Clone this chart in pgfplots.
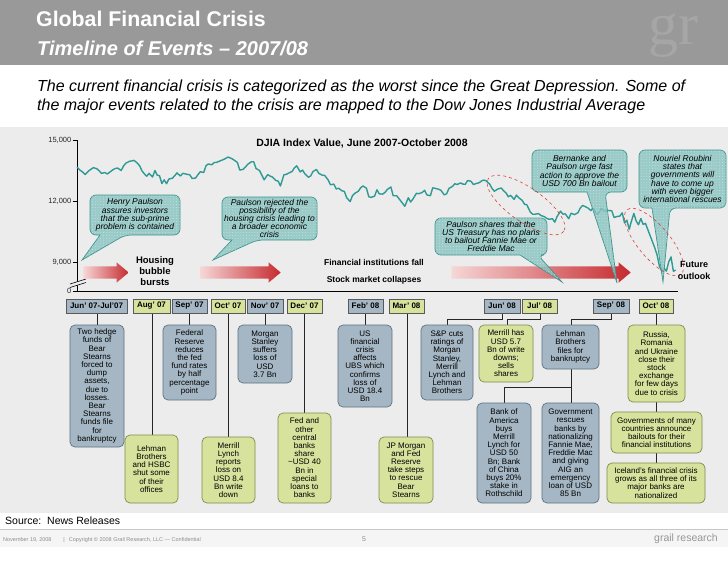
\documentclass[border=0pt]{standalone}
\usepackage{pgfplots}
\pgfplotsset{compat=1.18}
\usepackage{pgfplotstable}
\usepackage{fontspec}
\setmainfont{Liberation Sans}
\newfontfamily\wmfont{Liberation Serif}
\usetikzlibrary{shapes.arrows,patterns.meta}

\definecolor{hdr}{HTML}{999999}
\definecolor{wm}{HTML}{A6A6A6}
\definecolor{panel}{HTML}{ECECEC}
\definecolor{djia}{HTML}{2F9A94}
\definecolor{bgray}{HTML}{A5B7C4}
\definecolor{bgrayd}{HTML}{5E7280}
\definecolor{ygreen}{HTML}{D7E29D}
\definecolor{ygreend}{HTML}{7F8C4C}
\definecolor{callfill}{HTML}{86C3BF}
\definecolor{calldraw}{HTML}{3E958F}
\definecolor{arrowred}{HTML}{C62A2F}
\definecolor{arrowpink}{HTML}{F6D6D6}
\definecolor{ellred}{HTML}{D9403C}
\definecolor{foot}{HTML}{8C8C8C}

% DJIA close, x = days since 1 June 2007
\pgfplotstableread{
day val
0 13670
3 13500
5 13420
7 13300
10 13480
12 13560
14 13640
17 13590
19 13490
21 13360
24 13400
26 13330
28 13410
31 13540
33 13600
35 13620
38 13500
40 13720
42 13860
45 13950
47 13970
49 14000
52 13860
54 13720
56 13470
59 13270
60 13220
62 13360
65 13180
67 13500
69 13270
71 13240
73 12860
75 13040
77 12850
79 13080
82 13120
84 13240
86 13380
89 13230
91 13360
95 13310
97 13290
99 13110
102 13130
104 13290
106 13440
109 13400
111 13740
113 13820
116 13780
118 13890
120 13900
123 13970
126 14040
128 14100
130 14160
133 14090
136 13980
138 13890
140 13520
143 13560
145 13680
147 13810
150 13930
152 13930
154 13600
157 13500
159 13270
161 13040
164 13300
166 13230
168 13180
171 13010
173 12980
175 12740
178 13290
180 13310
182 13370
185 13450
187 13630
189 13730
192 13430
194 13520
196 13340
199 13170
201 13230
203 13450
206 13550
208 13360
211 13270
213 13260
216 13040
218 12800
221 12830
223 12590
225 12630
228 12500
230 12470
232 12160
235 11970
237 12270
239 12380
242 12480
244 12650
246 12740
249 12630
251 12210
253 12180
256 12240
258 12550
260 12350
263 12340
265 12430
267 12570
270 12690
272 12260
275 12260
278 12040
280 11890
282 11740
285 12160
287 11950
289 12100
292 12380
294 12360
297 12420
299 12530
301 12300
304 12260
306 12650
309 12610
311 12580
313 12530
316 12300
318 12360
320 12620
323 12720
325 12850
327 12810
330 12890
332 12830
334 12820
336 13010
339 12970
341 12810
344 12870
346 12900
348 12990
350 13030
352 12990
355 12830
357 12620
359 12480
362 12590
365 12640
367 12500
369 12400
371 12210
373 12280
376 12080
378 12290
380 12160
383 12030
385 11840
387 11810
390 11450
392 11350
394 11350
397 11380
399 11290
402 11230
404 11150
406 11100
409 11130
411 10960
413 11240
416 11500
418 11350
420 11370
423 11130
425 11400
428 11330
431 11430
433 11660
435 11780
437 11730
440 11640
442 11530
444 11660
447 11350
449 11420
451 11630
454 11500
456 11540
460 11520
462 11190
464 11230
467 11260
469 11420
471 10920
473 11060
475 10610
477 11020
479 11390
481 11020
483 10830
485 11140
487 10850
489 10900
491 10600
493 10300
495 10000
497 9700
499 9350
501 8800
503 8550
505 8700
507 8550
509 9000
511 9250
512 8900
513 8550
515 8600
}\djiatab

\newcommand\evbox[6]{%
  \draw[#1, rounded corners=5pt, line width=0.7pt] (#2,#3) rectangle (#4,#5);
  \node[evt] at ({(#2+#4)/2},{(#3+#5)/2}) {#6};}
\newcommand\lab[4]{%
  \draw[#1, draw=black!65, line width=0.6pt] (#2,299) rectangle (#3,313);
  \node[labt] at ({(#2+#3)/2},306) {#4};}
\newcommand\callout[8]{%
  \path[fill=callfill, fill opacity=0.8, draw=calldraw, line width=0.7pt,
    rounded corners=6pt,
    postaction={pattern={Dots[distance=2.8pt,radius=0.4pt]}, pattern color=white!80!callfill}]
    (#1,#2) -- (#3,#2) -- (#3,#4) -- (#6,#4) [sharp corners] -- (#7,#8)
    -- (#5,#4) [rounded corners=6pt] -- (#1,#4) -- cycle;}

\begin{document}
\begin{tikzpicture}[
  evt/.style={align=center, font=\fontsize{8}{8.2}\selectfont, inner sep=0pt},
  labt/.style={font=\fontsize{8}{9}\selectfont\bfseries, inner sep=0pt},
  calt/.style={align=center, font=\fontsize{8.5}{8.2}\selectfont\itshape, inner sep=0pt},
  bb/.style={fill=bgray, draw=bgrayd},
  gb/.style={fill=ygreen, draw=ygreend},
  arr/.style={single arrow, shading=axis, left color=arrowpink, right color=arrowred,
    draw=none, inner xsep=0pt, inner ysep=6pt, single arrow head extend=4pt,
    single arrow tip angle=80},
  bold/.style={font=\fontsize{9.5}{11}\selectfont\bfseries, align=center, inner sep=0pt}]

\begin{scope}[x=1pt,y=-1pt]
  \useasboundingbox (0,0) rectangle (728,563);
  \fill[white] (0,0) rectangle (728,563);
  \fill[hdr] (0,0) rectangle (728,65);
  \node[anchor=base west, inner sep=0, text=wm, font=\wmfont\fontsize{60}{60}\selectfont] at (648,44) {gr};
  \node[anchor=base west, inner sep=0, text=white, font=\fontsize{21.3}{24}\selectfont\bfseries] at (36,26) {Global Financial Crisis};
  \node[anchor=base west, inner sep=0, text=white, font=\fontsize{20}{22}\selectfont\bfseries\itshape] at (37,55) {Timeline of Events -- 2007/08};
  \node[anchor=base west, inner sep=0, font=\fontsize{16}{18}\selectfont\itshape] at (37,91) {The current financial crisis is categorized as the worst since the Great Depression. Some of};
  \node[anchor=base west, inner sep=0, font=\fontsize{16}{18}\selectfont\itshape] at (37,110) {the major events related to the crisis are mapped to the Dow Jones Industrial Average};
  \fill[panel] (0,127) rectangle (728,513);
  \node[anchor=base west, inner sep=0, font=\fontsize{10.5}{12}\selectfont] at (5,524) {Source:\ \ News Releases};
  \fill[black!4] (0,529) rectangle (728,547);
  \draw[black!22, line width=0.6pt] (0,529) -- (728,529);
  \node[anchor=base west, inner sep=0, text=foot, font=\fontsize{5.5}{6}\selectfont] at (3,541) {November 19, 2008\hspace{12pt}|\hspace{4pt}Copyright \textcopyright{} 2008 Grail Research, LLC --- Confidential};
  \node[anchor=base, inner sep=0, text=foot, font=\fontsize{7}{8}\selectfont] at (364,541) {5};
  \node[anchor=base east, inner sep=0, text=foot!90, font=\fontsize{10.5}{12}\selectfont] at (718,541) {grail research};
\end{scope}

\begin{axis}[
  at={(77pt,-291pt)}, anchor=south west,
  scale only axis, width=601pt, height=151pt,
  xmin=0, xmax=517, ymin=7574, ymax=15000,
  axis x line=bottom, axis y line=left,
  axis line style={-, line width=0.8pt, black},
  xtick=\empty,
  ytick={7574,9000,12000,15000},
  scaled y ticks=false,
  yticklabels={{\mbox{0}},{\mbox{9,000}},{\mbox{12,000}},{\mbox{15,000}}},
  yticklabel style={font=\fontsize{7.5}{8}\selectfont, text=black!85, inner sep=1.5pt},
  tick align=outside, major tick length=4pt, tick style={black, line width=0.6pt},
  clip=false,
]
\addplot[djia, line width=1.4pt, line join=round] table[x=day, y=val] {\djiatab};
\end{axis}

\begin{scope}[x=1pt,y=-1pt]
  % axis break
  \fill[panel] (70,284) -- (86,279) -- (86,282.5) -- (70,287.5) -- cycle;
  \draw[black, line width=0.6pt] (70,284) -- (86,279) (70,287.5) -- (86,282.5);

  \node[font=\fontsize{10.5}{12}\selectfont\bfseries, inner sep=0] at (362,143.5) {DJIA Index Value, June 2007-October 2008};

  % gradient arrows
  \node[arr, minimum height=45pt] at (102.5,272.5) {};
  \node[arr, minimum height=80pt] at (237,272.5) {};
  \node[arr, minimum height=179pt] at (537.5,272.5) {};

  % callouts
  \callout{90}{195}{180}{235}{100}{125}{82}{260}
  \node[calt] at (135,215) {Henry Paulson\\assures investors\\that the sub-prime\\problem is contained};
  \callout{222}{197}{317}{240}{232}{257}{213}{260}
  \node[calt] at (269.5,218.5) {Paulson rejected the\\possibility of the\\housing crisis leading to\\a broader economic\\crisis};
  \callout{435}{218}{547}{255}{520}{538}{562}{282}
  \node[calt] at (491,236.5) {Paulson shares that the\\US Treasury has no plans\\to bailout Fannie Mae or\\Freddie Mac};
  \callout{532}{150}{627}{192}{587}{605}{617}{283}
  \node[calt] at (579.5,171) {Bernanke and\\Paulson urge fast\\action to approve the\\USD 700 Bn bailout};
  \callout{639}{150}{726}{208}{652}{670}{663}{282}
  \node[calt] at (682.5,179) {Nouriel Roubini\\states that\\governments will\\have to come up\\with even bigger\\international rescues};

  % dashed ellipses
  \draw[ellred, dashed, line width=0.6pt, rotate around={-35:(526,205)}] (526,205) ellipse (46 and 17);
  \draw[ellred, dashed, line width=0.6pt, rotate around={-50:(654,242)}] (654,242) ellipse (42 and 16);

  % phase labels
  \node[bold] at (155,271) {Housing\\bubble\\bursts};
  \node[bold, font=\fontsize{8.5}{10}\selectfont\bfseries] at (374,262) {Financial institutions fall};
  \node[bold, font=\fontsize{8.5}{10}\selectfont\bfseries] at (374,280) {Stock market collapses};
  \node[bold, font=\fontsize{9}{12}\selectfont\bfseries] at (694,270) {Future\\outlook};

  % connectors
  \draw[black!85, line width=0.7pt]
    (97,313) -- (97,325)  (152,313) -- (152,435)  (189,313) -- (189,325)
    (228,313) -- (228,437)  (265,313) -- (265,325)  (304,313) -- (304,413)
    (365,313) -- (365,325)  (407,313) -- (407,437)
    (502,313) -- (502,319) -- (447,319) -- (447,325)
    (540,313) -- (540,319) -- (507,319) -- (507,325)
    (611,313) -- (611,319) -- (571,319) -- (571,325)
    (656,313) -- (656,325)
    (571,369) -- (571,403)  (571,387) -- (504,387) -- (504,403)
    (656,402) -- (656,412)  (656,453) -- (656,463);

  % month labels
  \lab{fill=bgray}{66}{127}{Jun' 07-Jul'07}
  \lab{fill=ygreen}{133}{170}{Aug' 07}
  \lab{fill=bgray}{172}{207}{Sep' 07}
  \lab{fill=ygreen}{211}{245}{Oct' 07}
  \lab{fill=bgray}{247}{283}{Nov' 07}
  \lab{fill=ygreen}{287}{322}{Dec' 07}
  \lab{fill=bgray}{348}{383}{Feb' 08}
  \lab{fill=ygreen}{389}{424}{Mar' 08}
  \lab{fill=bgray}{484}{520}{Jun' 08}
  \lab{fill=ygreen}{522}{557}{Jul' 08}
  \lab{fill=bgray}{593}{629}{Sep' 08}
  \lab{fill=ygreen}{639}{673}{Oct' 08}

  % events
  \evbox{bb}{70}{325}{124}{447}{Two hedge\\funds of\\Bear\\Stearns\\forced to\\dump\\assets,\\due to\\losses.\\Bear\\Stearns\\funds file\\for\\bankruptcy}
  \evbox{bb}{163}{325}{216}{400}{Federal\\Reserve\\reduces\\the fed\\fund rates\\by half\\percentage\\point}
  \evbox{bb}{238}{325}{292}{383}{Morgan\\Stanley\\suffers\\loss of\\USD\\3.7 Bn}
  \evbox{bb}{338}{325}{392}{407}{US\\financial\\crisis\\affects\\UBS which\\confirms\\loss of\\USD 18.4\\Bn}
  \evbox{bb}{421}{325}{473}{400}{S\&P cuts\\ratings of\\Morgan\\Stanley,\\Merrill\\Lynch and\\Lehman\\Brothers}
  \evbox{gb}{479}{325}{533}{382}{Merrill has\\USD 5.7\\Bn of write\\downs;\\sells\\shares}
  \evbox{bb}{542}{325}{599}{369}{Lehman\\Brothers\\files for\\bankruptcy}
  \evbox{gb}{628}{325}{685}{402}{Russia,\\Romania\\and Ukraine\\close their\\stock\\exchange\\for few days\\due to crisis}
  \evbox{bb}{477}{403}{531}{503}{Bank of\\America\\buys\\Merrill\\Lynch for\\USD 50\\Bn; Bank\\of China\\buys 20\%\\stake in\\Rothschild}
  \evbox{bb}{542}{403}{599}{503}{Government\\rescues\\banks by\\nationalizing\\Fannie Mae,\\Freddie Mac\\and giving\\AIG an\\emergency\\loan of USD\\85 Bn}
  \evbox{gb}{611}{412}{702}{453}{Governments of many\\countries announce\\bailouts for their\\financial institutions}
  \evbox{gb}{607}{463}{705}{503}{Iceland's financial crisis\\grows as all three of its\\major banks are\\nationalized}
  \evbox{gb}{125}{435}{178}{503}{Lehman\\Brothers\\and HSBC\\shut some\\of their\\offices}
  \evbox{gb}{202}{437}{255}{503}{Merrill\\Lynch\\reports\\loss on\\USD 8.4\\Bn write\\down}
  \evbox{gb}{278}{413}{331}{503}{Fed and\\other\\central\\banks\\share\\\textasciitilde USD 40\\Bn in\\special\\loans to\\banks}
  \evbox{gb}{379}{437}{433}{503}{JP Morgan\\and Fed\\Reserve\\take steps\\to rescue\\Bear\\Stearns}
\end{scope}
\end{tikzpicture}
\end{document}
